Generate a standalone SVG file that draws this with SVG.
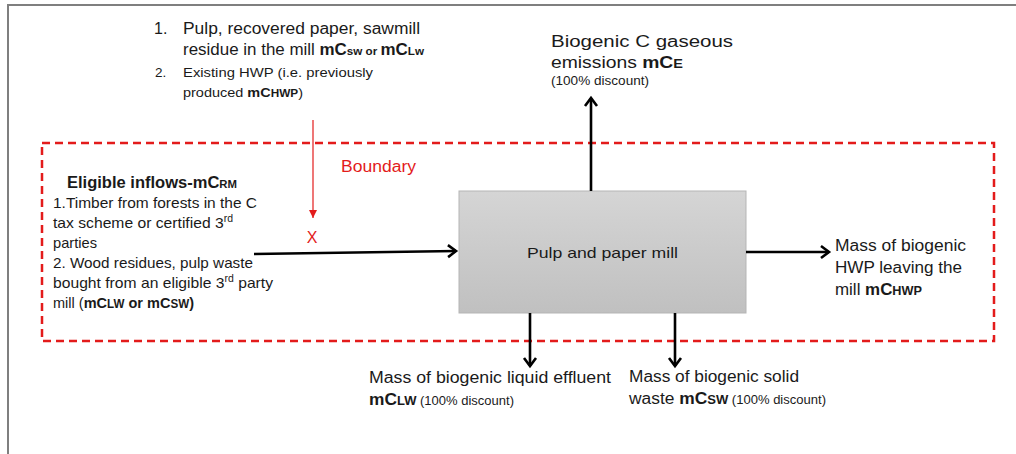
<svg xmlns="http://www.w3.org/2000/svg" width="1016" height="454" viewBox="0 0 1016 454">
<style>
text{font-family:"Liberation Sans",Arial,sans-serif;fill:#1a1a1a}
.t{font-size:15px}
.m{font-size:16px}
.s{font-size:13.5px}
.xs{font-size:11px}
.d{font-size:12px;font-weight:normal}
.b{font-weight:bold}
.red{fill:#e31b1b}
.flow{stroke:#000;stroke-width:2.6;fill:none}
</style>
<defs>
<linearGradient id="g" x1="0" y1="0" x2="0" y2="1">
<stop offset="0" stop-color="#d5d5d5"/>
<stop offset="1" stop-color="#c0c0c0"/>
</linearGradient>
<marker id="ah" markerUnits="userSpaceOnUse" markerWidth="16" markerHeight="16" refX="11" refY="7" orient="auto" overflow="visible">
<path d="M3,1 L11,7 L3,13" fill="none" stroke="#000" stroke-width="2.6"/>
</marker>
<marker id="rh" markerUnits="userSpaceOnUse" markerWidth="10" markerHeight="10" refX="8" refY="4" orient="auto">
<path d="M0,0 L8,4 L0,8 Z" fill="#e31b1b"/>
</marker>
</defs>
<rect width="1016" height="454" fill="#fff"/>
<path d="M8,454 V5 H1016" fill="none" stroke="#7f7f7f" stroke-width="2"/>
<g id="boundary">
<rect x="42" y="143" width="952" height="198" fill="none" stroke="#e31b1b" stroke-width="2.5" stroke-dasharray="8,5"/>
<text x="341" y="172" class="m red" textLength="75" lengthAdjust="spacingAndGlyphs">Boundary</text>
</g>
<g id="mill">
<rect x="459" y="191" width="287" height="122" fill="url(#g)" stroke="#b5b5b5" stroke-width="1"/>
<text x="527" y="258" class="t" textLength="151" lengthAdjust="spacingAndGlyphs">Pulp and paper mill</text>
</g>
<g id="connectors">
<line x1="254" y1="254" x2="456" y2="251" class="flow" marker-end="url(#ah)"/>
<line x1="591" y1="191" x2="591" y2="98" class="flow" marker-end="url(#ah)"/>
<line x1="746" y1="252" x2="829" y2="252" class="flow" marker-end="url(#ah)"/>
<line x1="530" y1="313" x2="530" y2="366" class="flow" marker-end="url(#ah)"/>
<line x1="675" y1="313" x2="675" y2="366" class="flow" marker-end="url(#ah)"/>
<line x1="313" y1="120" x2="313" y2="218" stroke="#e31b1b" stroke-width="1.2" marker-end="url(#rh)"/>
<text x="312" y="243" class="m red" text-anchor="middle">X</text>
</g>
<g id="excluded-inflows">
<text x="154" y="34" class="m">1.</text>
<text x="183" y="34" class="m" textLength="237" lengthAdjust="spacingAndGlyphs">Pulp, recovered paper, sawmill</text>
<text x="183" y="55" class="m" textLength="241" lengthAdjust="spacingAndGlyphs">residue in the mill <tspan class="b">mC<tspan class="xs">sw or </tspan>mC<tspan class="xs">Lw</tspan></tspan></text>
<text x="155" y="77" class="s">2.</text>
<text x="183" y="77" class="s" textLength="190" lengthAdjust="spacingAndGlyphs">Existing HWP (i.e. previously</text>
<text x="183" y="97" class="s" textLength="120" lengthAdjust="spacingAndGlyphs">produced <tspan class="b">mC<tspan class="xs">HWP</tspan></tspan>)</text>
</g>
<g id="eligible-inflows">
<text x="67" y="188" font-size="16" class="b" textLength="170" lengthAdjust="spacingAndGlyphs">Eligible inflows-mC<tspan class="xs">RM</tspan></text>
<text x="53" y="208" class="t" textLength="204" lengthAdjust="spacingAndGlyphs">1.Timber from forests in the C</text>
<text x="53" y="228" class="t" textLength="180" lengthAdjust="spacingAndGlyphs">tax scheme or certified 3<tspan font-size="10" dy="-6">rd</tspan></text>
<text x="53" y="248" class="t" textLength="44" lengthAdjust="spacingAndGlyphs">parties</text>
<text x="53" y="268" class="t" textLength="200" lengthAdjust="spacingAndGlyphs">2. Wood residues, pulp waste</text>
<text x="53" y="288" class="t" textLength="220" lengthAdjust="spacingAndGlyphs">bought from an eligible 3<tspan font-size="10" dy="-6">rd</tspan><tspan dy="6"> party</tspan></text>
<text x="53" y="308" class="t" textLength="141" lengthAdjust="spacingAndGlyphs">mill (<tspan class="b">mC<tspan font-size="12">LW</tspan> or mC<tspan font-size="12">SW</tspan>)</tspan></text>
</g>
<g id="gaseous">
<text x="551" y="47" class="m" textLength="182" lengthAdjust="spacingAndGlyphs">Biogenic C gaseous</text>
<text x="551" y="68" class="m" textLength="132" lengthAdjust="spacingAndGlyphs">emissions <tspan class="b">mC<tspan font-size="12">E</tspan></tspan></text>
<text x="551" y="85" class="d" textLength="98" lengthAdjust="spacingAndGlyphs">(100% discount)</text>
</g>
<g id="hwp-out">
<text x="835" y="251" class="m" textLength="131" lengthAdjust="spacingAndGlyphs">Mass of biogenic</text>
<text x="835" y="273" class="m" textLength="127" lengthAdjust="spacingAndGlyphs">HWP leaving the</text>
<text x="835" y="295" class="m" textLength="87" lengthAdjust="spacingAndGlyphs">mill <tspan class="b">mC<tspan font-size="12">HWP</tspan></tspan></text>
</g>
<g id="liquid">
<text x="369" y="383" class="m" textLength="242" lengthAdjust="spacingAndGlyphs">Mass of biogenic liquid effluent</text>
<text x="369" y="405" class="m b" textLength="145" lengthAdjust="spacingAndGlyphs">mC<tspan font-size="12">LW</tspan><tspan class="d"> (100% discount)</tspan></text>
</g>
<g id="solid">
<text x="629" y="382" class="m" textLength="170" lengthAdjust="spacingAndGlyphs">Mass of biogenic solid</text>
<text x="629" y="404" class="m" textLength="197" lengthAdjust="spacingAndGlyphs">waste <tspan class="b">mC<tspan font-size="12">SW</tspan></tspan><tspan class="d"> (100% discount)</tspan></text>
</g>
</svg>
